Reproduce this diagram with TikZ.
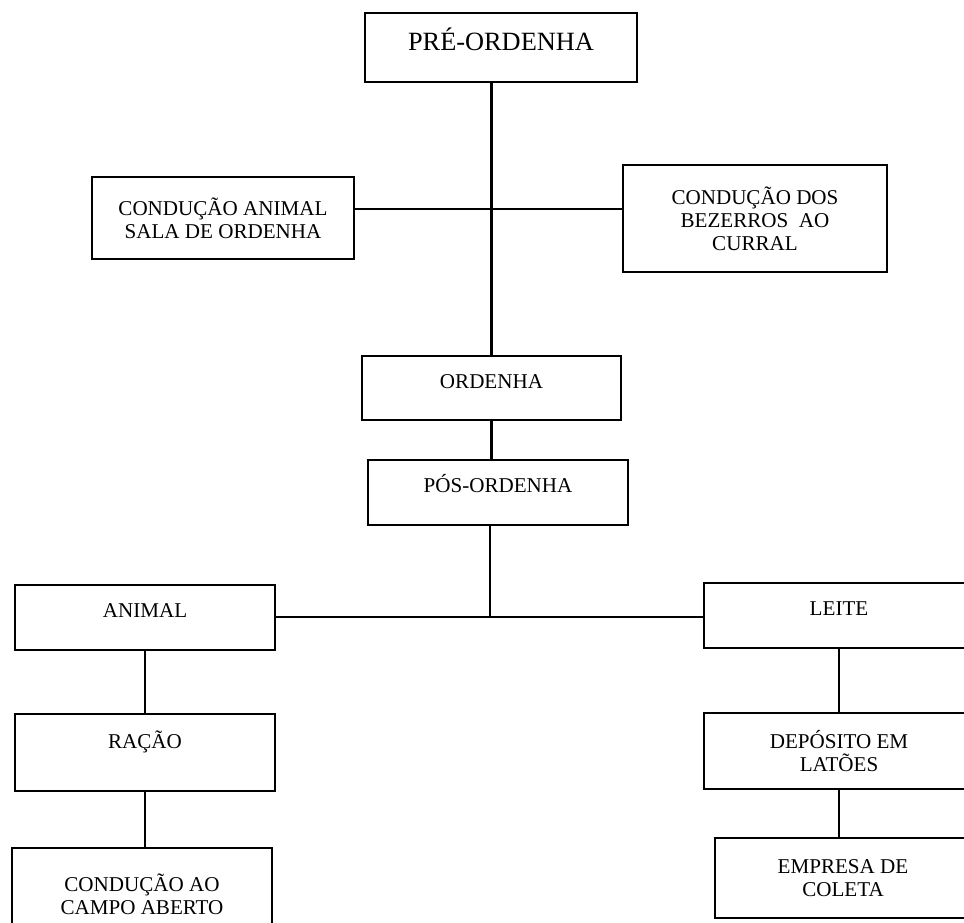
\documentclass[tikz,border=0pt]{standalone}
\usepackage{fontspec}
\setmainfont{Liberation Serif}
\usepackage{tikz}
\usetikzlibrary{calc}

\begin{document}
\begin{tikzpicture}[x=0.02cm,y=-0.02cm,
    cell/.style={draw, line width=0.9pt, inner sep=0pt, align=center,
        font=\fontsize{12}{13}\selectfont},
    link/.style={line width=1.2pt}]
                \useasboundingbox (0,0) rectangle (964,923);
                \clip (0,0) rectangle (964,923);
                \node[cell, text height=0.74cm, text depth=0.64cm, minimum width=5.44cm,
                    font=\fontsize{15}{17}\selectfont] (pre) at (501,47.5) {PRÉ-ORDENHA};
                \node[cell, minimum width=5.24cm, minimum height=1.64cm] (ca) at (223,218) {CONDUÇÃO ANIMAL\\SALA DE ORDENHA};
                \node[cell, minimum width=5.28cm, minimum height=2.14cm] (cb) at (755,218.5) {CONDUÇÃO DOS\\BEZERROS\ \ AO\\CURRAL};
                \node[cell, text height=0.64cm, text depth=0.64cm, minimum width=5.18cm] (ordenha) at (491.5,388) {ORDENHA};
                \node[cell, text height=0.64cm, text depth=0.66cm, minimum width=5.2cm] (pos) at (498,492.5) {PÓS-ORDENHA};
                \node[cell, text height=0.64cm, text depth=0.66cm, minimum width=5.2cm] (animal) at (145,617.5) {ANIMAL};
                \node[cell, text height=0.68cm, text depth=0.86cm, minimum width=5.2cm] (racao) at (145,752.5) {RAÇÃO};
                \node[cell, minimum width=5.2cm, minimum height=1.86cm] (cao) at (142,894.5) {CONDUÇÃO AO\\CAMPO ABERTO};
                \node[cell, text height=0.64cm, text depth=0.66cm, minimum width=5.4cm] (leite) at (839,615.5) {LEITE};
                \node[cell, minimum width=5.4cm, minimum height=1.52cm] (dep) at (839,751) {DEPÓSITO EM\\LATÕES};
                \node[cell, minimum width=5.12cm, minimum height=1.6cm] (emp) at (843,878) {EMPRESA DE\\COLETA};
                \coordinate (jt) at (492,209);
                \coordinate (jb) at (490,617);
                \draw[link] (ordenha.north |- pre.south) -- (ordenha.north);
                \draw[link] (ca.east |- jt) -- (cb.west |- jt);
                \draw[link] (ordenha.south) -- (ordenha.south |- pos.north);
                \draw[link] (jb |- pos.south) -- (jb);
                \draw[link] (animal.east |- jb) -- (leite.west |- jb);
                \draw[link] (animal.south) -- (racao.north);
                \draw[link] (racao.south) -- (racao.south |- cao.north);
                \draw[link] (leite.south) -- (dep.north);
                \draw[link] (dep.south) -- (dep.south |- emp.north);
\end{tikzpicture}
\end{document}
